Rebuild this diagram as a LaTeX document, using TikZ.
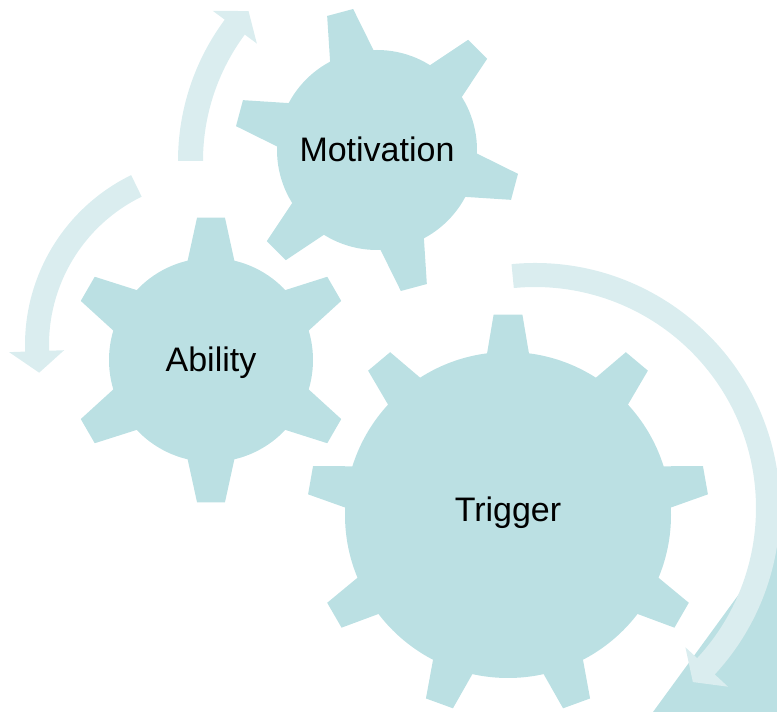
\documentclass[tikz,border=0pt]{standalone}
\usepackage{fontspec}
\setmainfont{Liberation Sans}
\definecolor{gearblue}{RGB}{187,224,227}
\definecolor{turnblue}{RGB}{218,237,239}

\begin{document}
\begin{tikzpicture}[x=0.5pt,y=0.5pt,
    gear/.style={fill=gearblue},
    turn/.style={fill=turnblue},
    word/.style={anchor=base,inner sep=0pt,font=\fontsize{17}{20}\selectfont}]

    \useasboundingbox (0,0) rectangle (777,712);

    % centres of the gears and of the turning arrows
    \coordinate (mc) at (377,562);
    \coordinate (ac) at (211,352);
    \coordinate (tc) at (508,197);
    \coordinate (mturn) at (415,551);
    \coordinate (aturn) at (214,367);
    \coordinate (tturn) at (535,204);

    % corner piece
    \fill[gear] (653,0) -- (777,170) -- (777,0) -- cycle;

    % the gears
    \fill[gear] (mc) circle[radius=100];
    \foreach \a in {45,105,...,345}
      \fill[gear,shift={(mc)}] (\a-13.5:98) -- (\a-5.4:143) -- (\a+5.4:143)
        -- (\a+13.5:98) -- cycle;
    \fill[gear] (ac) circle[radius=102];
    \foreach \a in {30,90,...,330}
      \fill[gear,shift={(ac)}] (\a-13.8:100) -- (\a-5.6:143) -- (\a+5.6:143)
        -- (\a+13.8:100) -- cycle;
    \fill[gear] (tc) circle[radius=163];
    \foreach \a in {10,50,...,330}
      \fill[gear,shift={(tc)}] (\a-7.6:161) -- (\a-4.1:201) -- (\a+4.1:201)
        -- (\a+7.6:161) -- cycle;

    % the arrows
    \fill[turn,shift={(mturn)}] (180:237) arc[start angle=180,end angle=143.4,radius=237]
      -- (143.4:252) -- (138:224) -- (143.4:197) -- (143.4:212)
      arc[start angle=143.4,end angle=180,radius=212] -- cycle;
    \fill[turn,shift={(aturn)}] (116:189) arc[start angle=116,end angle=182,radius=189]
      -- (182:205) -- (189:177) -- (182:150) -- (182:165)
      arc[start angle=182,end angle=116,radius=165] -- cycle;
    \fill[turn,shift={(tturn)}] (95.5:245) arc[start angle=95.5,end angle=-42.8,radius=245]
      -- (-42.8:263) -- (-47.8:235) -- (-42.8:205) -- (-42.8:221)
      arc[start angle=-42.8,end angle=95.5,radius=221] -- cycle;

    % the texts
    \node[word] (motivation) at (377,550) {Motivation};
    \node[word] (ability) at (211,340) {Ability};
    \node[word] (trigger) at (508,190) {Trigger};
\end{tikzpicture}
\end{document}
